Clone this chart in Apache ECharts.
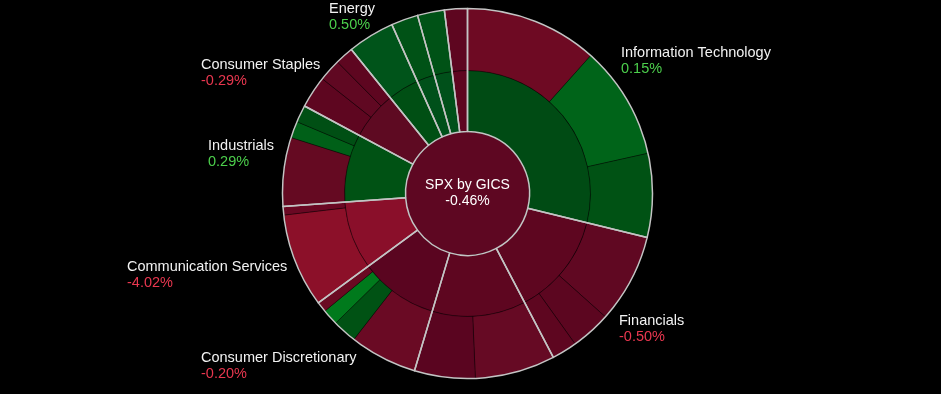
<!DOCTYPE html>
<html><head><meta charset="utf-8">
<script src="https://cdn.jsdelivr.net/npm/echarts@6/dist/echarts.min.js"></script>
<style>html,body{margin:0;padding:0;background:#000}#c{width:941px;height:394px}</style>
</head><body><div id="c"></div>
<script>
// ---- data ----
const rootName = 'SPX by GICS';
const rootChange = '-0.46%';
const sectors = ['Information Technology','Financials','Health Care','Consumer Discretionary','Communication Services','Industrials','Consumer Staples','Energy','Utilities','Materials','Real Estate'];
const sectorChange = ['0.15%','-0.50%',null,'-0.20%','-4.02%','0.29%','-0.29%','0.50%',null,null,null];
const childWeights = [[11.6,9.9,7.3],[7.8,3.5,2.2],[7.0,5.3],[5.9,2.1,1.4,0.9],[8.2,0.75],[6.0,1.45,1.5],[2.8,1.95,1.6],[4.1],[2.35],[2.35],[2.0]];

// ---- styles ----
const rootColor = '#5e0722';
const sectorColors = ['#004b14','#5e0620','#5e0620','#5a0520','#8a0f2a','#005214','#5e0a22','#004f14','#00501a','#00501a','#5e0620'];
const childColors = [['#6e0a23','#006419','#005214'],['#600822','#5c0620','#5e0620'],['#660a24','#5a0520'],['#6a0a24','#005214','#007a1c','#6a0a22'],['#8c1029','#6a0823'],['#650a22','#006018','#004f14'],['#5e0620','#600822','#5e0620'],['#00541a'],['#005216'],['#005216'],['#5e0620']];
const labelPos = {
  'Information Technology':[621,45],
  'Financials':[619,313],
  'Energy':[329,1],
  'Consumer Staples':[201,57],
  'Industrials':[208,138],
  'Communication Services':[127,259],
  'Consumer Discretionary':[201,350]
};
const FONT = 'Liberation Sans';
const CENTER = [467.5,193.5];

const sum = a => a.reduce((s,v)=>s+v,0);
const sunChildren = sectors.map((s,i)=>({
  name:s,
  itemStyle:{color:sectorColors[i]},
  children: childWeights[i].map((v,j)=>({name:s+' '+(j+1), value:v, itemStyle:{color:childColors[i][j]}}))
}));

const chart = echarts.init(document.getElementById('c'), null, {renderer:'canvas'});
chart.setOption({
  backgroundColor:'#000',
  animation:false,
  series:[
    {
      type:'sunburst',
      center:CENTER,
      startAngle:90,
      clockwise:true,
      sort:null,
      nodeClick:false,
      emphasis:{disabled:true},
      itemStyle:{borderColor:'rgba(0,0,0,0.45)',borderWidth:0.8},
      label:{show:false},
      levels:[{},{r0:0,r:62},{r0:62,r:123},{r0:123,r:185}],
      data:[{
        name:rootName,
        itemStyle:{color:rootColor},
        label:{show:true,rotate:0,color:'#ffffff',fontFamily:FONT,fontSize:14,lineHeight:16,
               formatter:()=>rootName+'\n'+rootChange},
        children:sunChildren
      }]
    },
    {
      type:'pie',
      center:CENTER,
      radius:[62,185],
      startAngle:90,
      clockwise:true,
      silent:true,
      avoidLabelOverlap:false,
      itemStyle:{color:'rgba(0,0,0,0)',borderColor:'#c4c4c4',borderWidth:1.5},
      label:{
        show:true,position:'outside',
        formatter:p=>{
          const c = sectorChange[p.dataIndex];
          if(c===null) return '';
          return '{n|'+p.name+'}\n{'+(c.charAt(0)==='-'?'r':'g')+'|'+c+'}';
        },
        rich:{
          n:{color:'#f2f2f2',fontFamily:FONT,fontSize:14.5,lineHeight:16},
          g:{color:'#4ccf4c',fontFamily:FONT,fontSize:14.5,lineHeight:16},
          r:{color:'#e8374f',fontFamily:FONT,fontSize:14.5,lineHeight:16}
        }
      },
      labelLine:{show:false},
      labelLayout:function(p){
        const pos = labelPos[sectors[p.dataIndex]];
        if(!pos) return {};
        return {x:pos[0],y:pos[1],align:'left',verticalAlign:'top'};
      },
      data:sectors.map((s,i)=>({name:s,value:sum(childWeights[i]),label:{show:sectorChange[i]!==null}}))
    }
  ]
});
</script>
</body></html>
